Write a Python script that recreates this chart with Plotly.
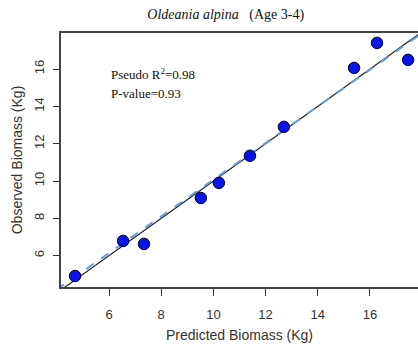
import plotly.graph_objects as go

# Data
predicted = [4.70, 6.54, 7.34, 9.52, 10.21, 11.40, 12.70, 15.39, 16.27, 17.46]
observed = [4.91, 6.79, 6.63, 9.09, 9.90, 11.35, 12.90, 16.06, 17.40, 16.49]

line_x = [4.0, 18.0]
fit_intercept = 0.25
fit_slope = 0.982
one_to_one_y = line_x
fit_y = [fit_intercept + fit_slope * v for v in line_x]

x_ticks = [6, 8, 10, 12, 14, 16]
y_ticks = [6, 8, 10, 12, 14, 16]

fig = go.Figure()
fig.add_trace(go.Scatter(x=line_x, y=one_to_one_y, mode="lines",
                         line=dict(color="#222222", width=1.2), showlegend=False))
fig.add_trace(go.Scatter(x=line_x, y=fit_y, mode="lines",
                         line=dict(color="#6a9ad8", width=2, dash="dash"), showlegend=False))
fig.add_trace(go.Scatter(x=predicted, y=observed, mode="markers",
                         marker=dict(color="#0a14e6", size=11.5,
                                     line=dict(color="#000033", width=1)),
                         showlegend=False))

fig.update_layout(
    width=418, height=349,
    margin=dict(l=61, r=0, t=33, b=62),
    paper_bgcolor="white", plot_bgcolor="white",
    title=dict(text="<i>Oldeania alpina</i>   (Age 3-4)", x=0.54, xanchor="center",
               y=0.96, yanchor="middle",
               font=dict(family="Liberation Serif", size=14, color="#111111")),
    font=dict(family="Liberation Sans", color="#333333"),
    xaxis=dict(range=[4.16, 17.84], tickvals=x_ticks, ticks="outside", ticklen=7,
               tickcolor="#333333", showgrid=False, zeroline=False,
               showline=True, linecolor="#444444", linewidth=1.5, mirror=True,
               ticklabelstandoff=8,
               tickfont=dict(size=13, color="#333333"),
               title=dict(text="Predicted Biomass (Kg)", standoff=9,
                          font=dict(size=14, color="#333333"))),
    yaxis=dict(range=[4.32, 17.93], tickvals=y_ticks, ticks="outside", ticklen=6,
               tickcolor="#333333", showgrid=False, zeroline=False,
               showline=True, linecolor="#444444", linewidth=1.5,
               tickangle=-90, ticklabelstandoff=4,
               tickfont=dict(size=13, color="#333333"),
               title=dict(text="Observed Biomass (Kg)", standoff=6,
                          font=dict(size=14, color="#333333"))),
    annotations=[
        dict(text="Pseudo R<sup>2</sup>=0.98", x=109, y=74, xref="paper", yref="paper",
             showarrow=False, xanchor="left", yanchor="middle",
             font=dict(family="Liberation Serif", size=13, color="#111111")),
        dict(text="P-value=0.93", x=109, y=93, xref="paper", yref="paper",
             showarrow=False, xanchor="left", yanchor="middle",
             font=dict(family="Liberation Serif", size=13, color="#111111")),
    ],
)

# convert annotation pixel positions to paper coords
pw, ph = 418 - 61 - 0, 349 - 33 - 62
for a in fig.layout.annotations:
    a.x = (a.x - 61) / pw
    a.y = 1 - (a.y - 33) / ph

fig.write_html("out.html", config={"displayModeBar": False},
               post_script="document.body.style.margin='0px';")
